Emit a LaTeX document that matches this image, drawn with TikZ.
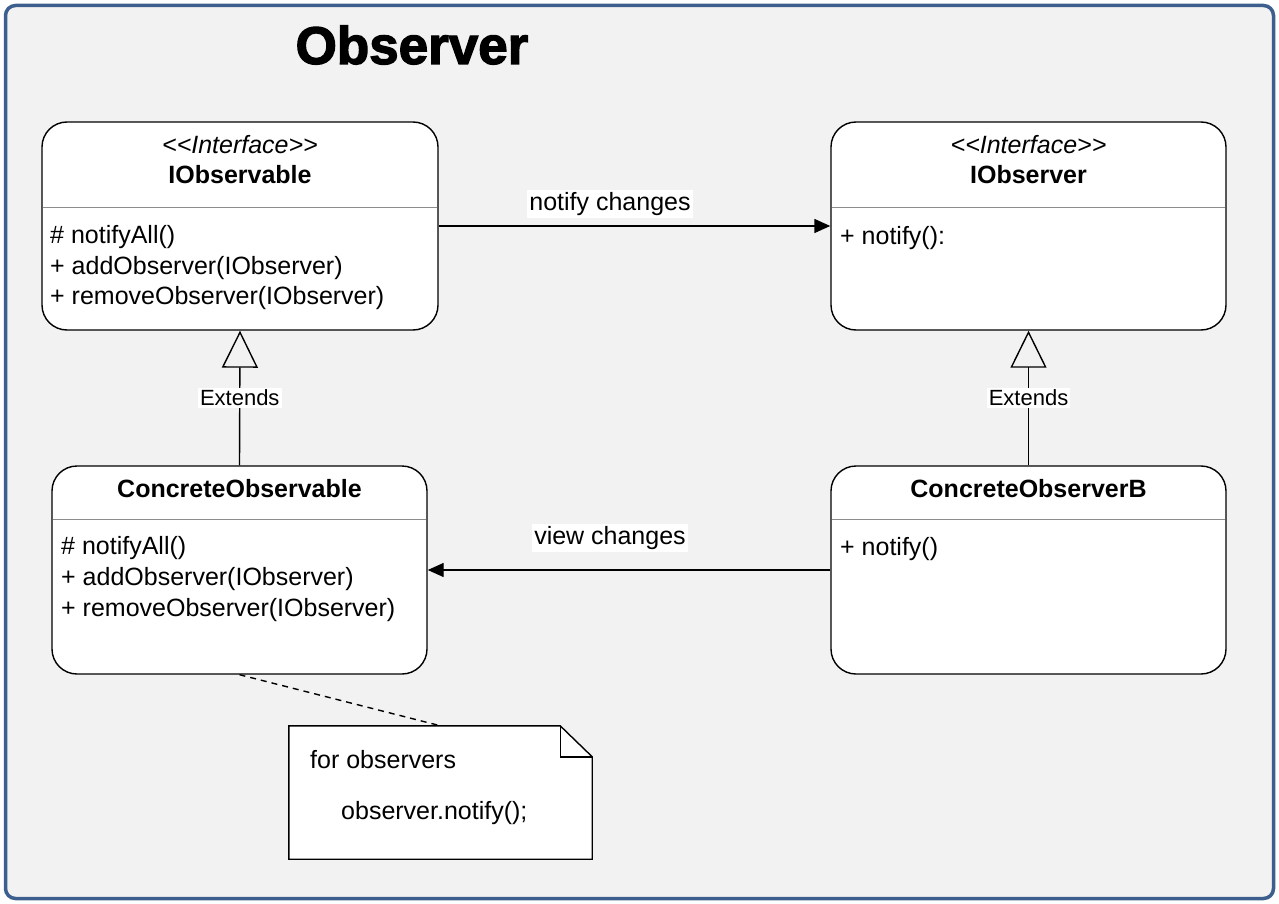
\documentclass[tikz,border=0pt]{standalone}
\usepackage{fontspec}
\setmainfont{Liberation Sans}
\newfontfamily\titlefont[FakeBold=2.5]{Liberation Sans Bold}
\usetikzlibrary{arrows.meta}
\definecolor{bgc}{HTML}{F2F2F2}
\definecolor{framec}{HTML}{3C5F8E}
\definecolor{sepc}{HTML}{8C8C8C}
\begin{document}
\begin{tikzpicture}[x=1pt,y=-1pt,
  umlbox/.style={draw=black,fill=white,line width=1.4pt,rounded corners=25pt,inner sep=0pt},
  sepline/.style={draw=sepc,line width=1pt},
  txt/.style={anchor=west,inner sep=0pt,font=\fontsize{25}{30}\selectfont},
  ctxt/.style={inner sep=0pt,font=\fontsize{25}{30}\selectfont},
  lbl/.style={fill=white,inner sep=2pt,font=\fontsize{25}{30}\selectfont},
  extlbl/.style={fill=white,inner sep=2pt,font=\fontsize{22}{26}\selectfont},
  assoc/.style={line width=1.4pt,-{Triangle[length=16pt,width=14pt]}},
  extends/.style={line width=1.4pt,-{Triangle[open,length=37pt,width=36pt,line width=1.4pt]}},
]
\useasboundingbox (0,0) rectangle (1279,904);
\draw[draw=framec,fill=bgc,line width=3.5pt,rounded corners=10pt] (5.5,5.5) rectangle (1273.5,898.5);

\node[inner sep=0pt,font=\titlefont\fontsize{53}{60}\selectfont] (title) at (412,45) {Observer};

% IObservable
\node[umlbox,minimum width=396pt,minimum height=208pt] (iobs) at (240,226) {};
\draw[sepline] (42.7,208) -- (437.3,208);
\node[ctxt,font=\fontsize{25}{30}\selectfont\itshape] (iobsst) at (240,145) {{<}{<}Interface{>}{>}};
\node[ctxt,font=\fontsize{25}{30}\selectfont\bfseries] (iobsname) at (240,175) {IObservable};
\node[txt] (iobsm1) at (50,237) {\# notifyAll()};
\node[txt] (iobsm2) at (50,268) {+ addObserver(IObserver)};
\node[txt] (iobsm3) at (50,298) {+ removeObserver(IObserver)};

% IObserver
\node[umlbox,minimum width=395pt,minimum height=208pt] (iobr) at (1028.5,226) {};
\draw[sepline] (831.7,208) -- (1225.3,208);
\node[ctxt,font=\fontsize{25}{30}\selectfont\itshape] (iobrst) at (1028.5,145) {{<}{<}Interface{>}{>}};
\node[ctxt,font=\fontsize{25}{30}\selectfont\bfseries] (iobrname) at (1028.5,175) {IObserver};
\node[txt] (iobrm1) at (840,238) {+ notify():};

% ConcreteObservable
\node[umlbox,minimum width=375pt,minimum height=208pt] (cobs) at (239.5,570) {};
\draw[sepline] (52.7,519) -- (426.3,519);
\node[ctxt,font=\fontsize{25}{30}\selectfont\bfseries] (cobsname) at (239.5,489) {ConcreteObservable};
\node[txt] (cobsm1) at (61,548) {\# notifyAll()};
\node[txt] (cobsm2) at (61,579) {+ addObserver(IObserver)};
\node[txt] (cobsm3) at (61,610) {+ removeObserver(IObserver)};

% ConcreteObserverB
\node[umlbox,minimum width=395pt,minimum height=208pt] (cobr) at (1028.5,570) {};
\draw[sepline] (831.7,519) -- (1225.3,519);
\node[ctxt,font=\fontsize{25}{30}\selectfont\bfseries] (cobrname) at (1028.5,489) {ConcreteObserverB};
\node[txt] (cobrm1) at (840,549) {+ notify()};

% associations
\draw[assoc] (iobs.east) -- (iobr.west);
\node[lbl] (notifylbl) at (610,204) {notify changes};
\draw[assoc] (cobr.west) -- (cobs.east);
\node[lbl] (viewlbl) at (610,538) {view changes};

% extends
\draw[extends] (cobs.north) -- node[extlbl,pos=0.5] (extl) {Extends} (iobs.south);
\draw[extends] (cobr.north) -- node[extlbl,pos=0.5] (extr) {Extends} (iobr.south);

% note
\node[inner sep=0pt,minimum width=303pt,minimum height=133pt] (note) at (440.5,792.5) {};
\draw[fill=white,line width=1.4pt] (note.north west) -- ([xshift=-32pt]note.north east) -- ([yshift=-31pt]note.north east) -- (note.south east) -- (note.south west) -- cycle;
\draw[line width=1.4pt] ([xshift=-32pt]note.north east) -- ([xshift=-32pt,yshift=-31pt]note.north east) -- ([yshift=-31pt]note.north east);
\node[txt] (notet1) at (310,760) {for observers};
\node[txt] (notet2) at (341,813) {observer.notify();};
\draw[dashed,line width=1.4pt,dash pattern=on 6pt off 5pt] (cobs.south) -- (note.north);
\end{tikzpicture}
\end{document}
